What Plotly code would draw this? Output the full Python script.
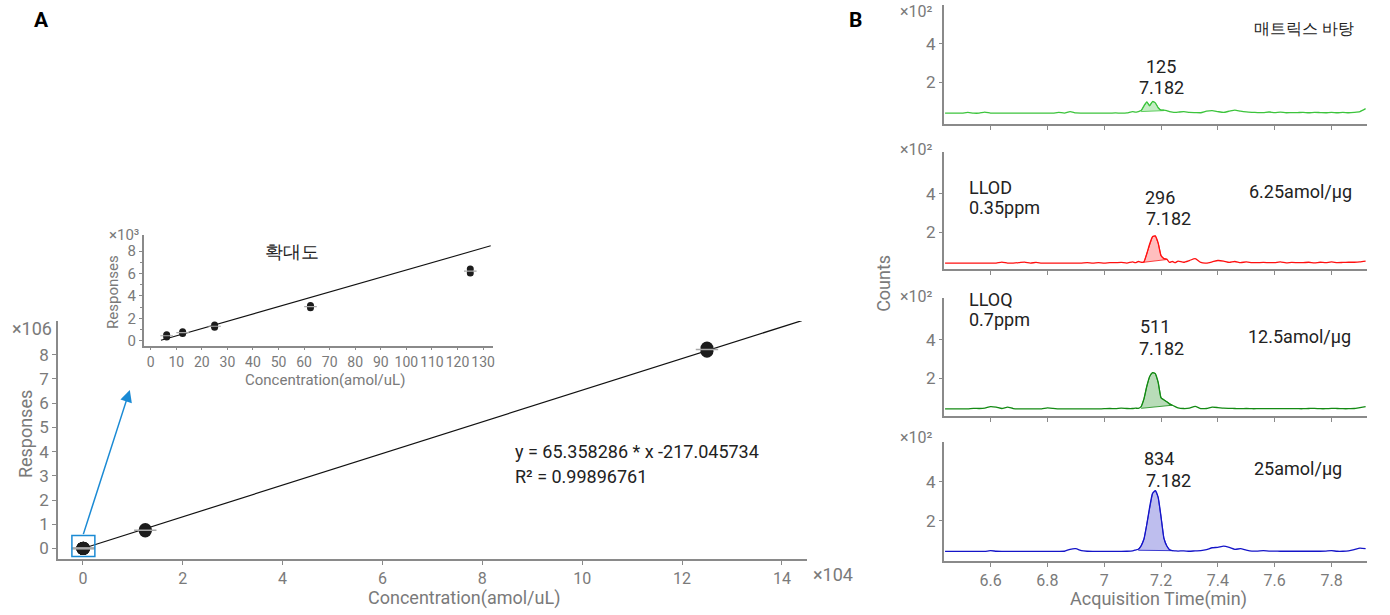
import plotly.graph_objects as go

# ---------------- data ----------------
# calibration (amol/uL -> responses), two replicate readings
conc = [6.25, 12.5, 25, 62.5, 125, 12500, 125000]
resp_rep1 = [350, 650, 1200, 2950, 6050, 720000, 8150000]
resp_rep2 = [550, 800, 1400, 3150, 6400, 780000, 8280000]
slope = 65.358286
intercept = -217.045734
main_fit_range = [0, 144000]
inset_fit_range = [4, 133]
n_inset = 5

main_xticks = [0, 2, 4, 6, 8, 10, 12, 14]
main_yticks = [0, 1, 2, 3, 4, 5, 6, 7, 8]
inset_xticks = [0, 10, 20, 30, 40, 50, 60, 70, 80, 90, 100, 110, 120, 130]
inset_yticks = [0, 2, 4, 6, 8]

# chromatograms (counts x10^2)
time = [6.44, 6.46, 6.48, 6.50, 6.52, 6.54, 6.56, 6.58, 6.60, 6.62, 6.64, 6.66, 6.68, 6.70, 6.72, 6.74,
        6.76, 6.78, 6.80, 6.82, 6.84, 6.86, 6.88, 6.90, 6.92, 6.94, 6.96, 6.98, 7.00, 7.02, 7.04, 7.06, 7.08,
        7.10, 7.11, 7.12, 7.13, 7.14, 7.15, 7.16, 7.17, 7.18, 7.19, 7.20, 7.21, 7.22, 7.23, 7.24, 7.25, 7.26,
        7.28, 7.30, 7.32, 7.34, 7.36, 7.38, 7.40, 7.42, 7.44, 7.46, 7.48, 7.50, 7.52, 7.54, 7.56, 7.58, 7.60,
        7.62, 7.64, 7.66, 7.68, 7.70, 7.72, 7.74, 7.76, 7.78, 7.80, 7.82, 7.84, 7.86, 7.88, 7.90, 7.92]

blank = [0.42, 0.42, 0.42, 0.42, 0.46, 0.42, 0.42, 0.47, 0.42, 0.42, 0.42, 0.42, 0.42, 0.42, 0.42, 0.42,
         0.42, 0.42, 0.42, 0.42, 0.46, 0.42, 0.50, 0.43, 0.42, 0.42, 0.42, 0.42, 0.42, 0.42, 0.43, 0.42, 0.43,
         0.50, 0.47, 0.50, 0.55, 0.80, 1.00, 0.80, 1.02, 0.95, 0.70, 0.58, 0.58, 0.55, 0.50, 0.47, 0.46, 0.47,
         0.50, 0.46, 0.45, 0.44, 0.52, 0.55, 0.50, 0.46, 0.52, 0.58, 0.52, 0.48, 0.46, 0.45, 0.45, 0.48, 0.45,
         0.47, 0.44, 0.45, 0.45, 0.46, 0.44, 0.46, 0.45, 0.44, 0.46, 0.44, 0.46, 0.44, 0.46, 0.50, 0.65]

llod = [0.42, 0.42, 0.42, 0.42, 0.42, 0.42, 0.42, 0.42, 0.42, 0.42, 0.47, 0.42, 0.42, 0.44, 0.47, 0.42,
        0.45, 0.42, 0.42, 0.42, 0.42, 0.42, 0.42, 0.42, 0.42, 0.44, 0.42, 0.44, 0.42, 0.44, 0.44, 0.45, 0.42,
        0.48, 0.44, 0.50, 0.46, 0.48, 0.90, 1.40, 1.78, 1.82, 1.45, 0.80, 0.65, 0.62, 0.45, 0.50, 0.44, 0.52,
        0.46, 0.55, 0.65, 0.45, 0.42, 0.48, 0.55, 0.52, 0.45, 0.50, 0.44, 0.48, 0.44, 0.44, 0.45, 0.44, 0.44,
        0.48, 0.43, 0.45, 0.44, 0.44, 0.46, 0.43, 0.46, 0.44, 0.48, 0.44, 0.45, 0.46, 0.46, 0.48, 0.52]

lloq = [0.43, 0.43, 0.43, 0.43, 0.43, 0.46, 0.45, 0.47, 0.55, 0.52, 0.45, 0.52, 0.45, 0.43, 0.43, 0.43,
        0.43, 0.43, 0.48, 0.46, 0.43, 0.43, 0.43, 0.43, 0.43, 0.43, 0.43, 0.43, 0.44, 0.45, 0.44, 0.47, 0.45,
        0.45, 0.47, 0.46, 0.55, 0.95, 1.60, 2.10, 2.30, 2.25, 1.80, 1.00, 0.90, 0.80, 0.68, 0.62, 0.55, 0.48,
        0.45, 0.47, 0.56, 0.45, 0.45, 0.52, 0.50, 0.47, 0.46, 0.45, 0.44, 0.45, 0.44, 0.44, 0.44, 0.44, 0.44,
        0.44, 0.44, 0.44, 0.44, 0.44, 0.45, 0.46, 0.44, 0.44, 0.46, 0.45, 0.44, 0.44, 0.45, 0.50, 0.55]

std25 = [0.41, 0.41, 0.41, 0.41, 0.41, 0.41, 0.41, 0.41, 0.45, 0.42, 0.41, 0.41, 0.41, 0.41, 0.41, 0.41,
         0.41, 0.41, 0.41, 0.41, 0.41, 0.42, 0.52, 0.55, 0.45, 0.42, 0.41, 0.41, 0.41, 0.41, 0.41, 0.41, 0.42,
         0.44, 0.48, 0.52, 0.70, 1.05, 1.80, 2.70, 3.40, 3.55, 3.20, 2.20, 1.10, 0.70, 0.50, 0.45, 0.44, 0.43,
         0.44, 0.42, 0.44, 0.45, 0.50, 0.60, 0.62, 0.68, 0.62, 0.52, 0.55, 0.48, 0.43, 0.43, 0.45, 0.43, 0.43,
         0.42, 0.42, 0.42, 0.42, 0.42, 0.42, 0.42, 0.42, 0.43, 0.45, 0.42, 0.42, 0.44, 0.50, 0.58, 0.55]

chrom_series = [blank, llod, lloq, std25]
chrom_colors = ["#3cc43c", "#ff1010", "#138a13", "#1414c8"]
chrom_fills = ["rgba(60,196,60,0.30)", "rgba(255,40,40,0.30)", "rgba(19,138,19,0.30)", "rgba(40,40,200,0.30)"]
peak_start = [7.13, 7.14, 7.13, 7.12]
peak_end = [7.21, 7.22, 7.24, 7.24]
base_start = [0.50, 0.46, 0.46, 0.47]
base_end = [0.55, 0.60, 0.62, 0.45]
peak_area = ["125", "296", "511", "834"]
peak_rt = ["7.182", "7.182", "7.182", "7.182"]
sample_labels = ["매트릭스 바탕", "6.25amol/μg", "12.5amol/μg", "25amol/μg"]
time_ticks = [6.6, 6.8, 7.0, 7.2, 7.4, 7.6, 7.8]
time_ticklabels = ["6.6", "6.8", "7", "7.2", "7.4", "7.6", "7.8"]
count_ticks = [2, 4]

# ---------------- layout helpers ----------------
W, H = 1390, 615
FONT = "Roboto"
AX_GRAY = "#8a8a8a"
TXT_GRAY = "#7a7a7a"
DARK = "#222222"


def px(x, y):
    return x / W, 1 - y / H


def axis_style(**kw):
    d = dict(showline=True, linecolor=AX_GRAY, linewidth=1.5, ticks="outside", ticklen=4,
             tickcolor=AX_GRAY, tickwidth=1.2, tickfont=dict(family=FONT, color=TXT_GRAY, size=17),
             showgrid=False, zeroline=False, mirror=False, fixedrange=True)
    d.update(kw)
    return d


fig = go.Figure()

# ---------------- Panel A main ----------------
mx1 = [c / 1e4 for c in conc]
my1 = [r / 1e6 for r in resp_rep1]
my2 = [r / 1e6 for r in resp_rep2]
fx = [v / 1e4 for v in main_fit_range]
fy = [(slope * v + intercept) / 1e6 for v in main_fit_range]
fig.add_trace(go.Scatter(x=fx, y=fy, mode="lines", line=dict(color="#111", width=1.2),
                         xaxis="x", yaxis="y", hoverinfo="skip"))
for ys in (my1, my2):
    fig.add_trace(go.Scatter(x=mx1, y=ys, mode="markers", marker=dict(color="#1c1c1c", size=13),
                             xaxis="x", yaxis="y"))
fig.add_trace(go.Scatter(x=mx1, y=[(a + b) / 2 for a, b in zip(my1, my2)], mode="markers",
                         marker=dict(symbol="line-ew", size=16, line=dict(color="#a8a8a8", width=1.5)),
                         xaxis="x", yaxis="y"))

# ---------------- Panel A inset ----------------
ix = conc[:n_inset]
iy1 = [r / 1e3 for r in resp_rep1[:n_inset]]
iy2 = [r / 1e3 for r in resp_rep2[:n_inset]]
ifx = inset_fit_range
ify = [(slope * v + intercept) / 1e3 for v in inset_fit_range]
fig.add_trace(go.Scatter(x=ifx, y=ify, mode="lines", line=dict(color="#111", width=1.1),
                         xaxis="x2", yaxis="y2"))
for ys in (iy1, iy2):
    fig.add_trace(go.Scatter(x=ix, y=ys, mode="markers", marker=dict(color="#1c1c1c", size=7),
                             xaxis="x2", yaxis="y2"))
fig.add_trace(go.Scatter(x=ix, y=[(a + b) / 2 for a, b in zip(iy1, iy2)], mode="markers",
                         marker=dict(symbol="line-ew", size=9, line=dict(color="#a8a8a8", width=1.2)),
                         xaxis="x2", yaxis="y2"))

# ---------------- Panel B ----------------
for i, vals in enumerate(chrom_series):
    xa, ya = "x%d" % (i + 3), "y%d" % (i + 3)
    pt = [t for t in time if peak_start[i] <= t <= peak_end[i]]
    pv = [v for t, v in zip(time, vals) if peak_start[i] <= t <= peak_end[i]]
    fig.add_trace(go.Scatter(x=pt + [peak_end[i], peak_start[i]], y=pv + [base_end[i], base_start[i]],
                             fill="toself", fillcolor=chrom_fills[i], mode="lines",
                             line=dict(color=chrom_colors[i], width=0.8), xaxis=xa, yaxis=ya))
    fig.add_trace(go.Scatter(x=time, y=vals, mode="lines", line=dict(color=chrom_colors[i], width=1.3,
                                                                   shape="spline", smoothing=0.5),
                             xaxis=xa, yaxis=ya))

# ---------------- axes ----------------
lay = dict(
    width=W, height=H, margin=dict(l=0, r=0, t=0, b=0), showlegend=False,
    paper_bgcolor="white", plot_bgcolor="rgba(0,0,0,0)", font=dict(family=FONT),
    xaxis=axis_style(domain=[58 / W, 808 / W], range=[-0.5, 14.5], tickvals=main_xticks, anchor="y",
                     ticklen=4, tickfont=dict(family=FONT, color=TXT_GRAY, size=16)),
    yaxis=axis_style(domain=[1 - 563 / H, 1 - 323 / H], range=[-0.45, 9.4], tickvals=main_yticks,
                     anchor="x", ticklen=4),
    xaxis2=axis_style(domain=[144 / W, 494 / W], range=[-2.7, 134], tickvals=inset_xticks, anchor="y2",
                      tickangle=0, tickfont=dict(family=FONT, color=TXT_GRAY, size=14), ticklen=3),
    yaxis2=axis_style(domain=[1 - 348 / H, 1 - 237 / H], range=[-0.44, 9.4], tickvals=inset_yticks,
                      anchor="x2", tickfont=dict(family=FONT, color=TXT_GRAY, size=15), ticklen=3,
                      minor=dict(ticks="outside", ticklen=2, tickvals=[1, 3, 5, 7], tickcolor=AX_GRAY)),
)
b_dom = [(125, 5, [-0.15, 6.0]), (271, 153, [0.1, 6.15]), (419, 300, [0.05, 6.15]), (565, 445, [-0.1, 6.05])]
for i, (bot, top, rng) in enumerate(b_dom):
    n = i + 3
    lay["xaxis%d" % n] = axis_style(domain=[945 / W, 1369 / W], range=[6.435, 7.925], tickvals=time_ticks,
                                    ticktext=time_ticklabels, anchor="y%d" % n, showticklabels=(i == 3),
                                    tickangle=0, ticklen=4, tickfont=dict(family=FONT, color=TXT_GRAY, size=16))
    lay["yaxis%d" % n] = axis_style(domain=[1 - bot / H, 1 - top / H], range=rng, tickvals=count_ticks,
                                    anchor="x%d" % n, ticklen=3)
fig.update_layout(**lay)

# ---------------- annotations ----------------
ann = []


def text(x, y, s, size=18, color=DARK, anchor="center", angle=0, bold=False):
    ax_, ay_ = px(x, y)
    ann.append(dict(x=ax_, y=ay_, xref="paper", yref="paper", text=("<b>%s</b>" % s) if bold else s,
                    showarrow=False, xanchor=anchor, yanchor="middle", textangle=angle,
                    font=dict(family=FONT, size=size, color=color)))


text(42, 20, "A", size=21, color="#000", bold=True)
text(857, 20, "B", size=21, color="#000", bold=True)
text(32, 331, "×106", size=18, color=TXT_GRAY)
text(834, 578, "×104", size=18, color=TXT_GRAY)
text(25, 437, "Responses", size=18, color=TXT_GRAY, angle=-90)
text(465, 602, "Concentration(amol/uL)", size=18, color=TXT_GRAY)
text(514, 454, "y = %.6f * x %.6f" % (slope, intercept), size=18, anchor="left")
text(514, 480, "R² = 0.99896761", size=18, anchor="left")
# inset texts
text(124, 237, "×10³", size=15, color=TXT_GRAY)
text(113, 294, "Responses", size=15, color=TXT_GRAY, angle=-90)
text(325, 382, "Concentration(amol/uL)", size=15, color=TXT_GRAY)
text(292, 253, "확대도", size=18, color=DARK)
# panel B texts
text(884, 285, "Counts", size=18, color=TXT_GRAY, angle=-90)
text(1160, 603, "Acquisition Time(min)", size=18, color=TXT_GRAY)
xlab_y = [12, 150, 298, 440]
area_y = [67, 199, 329, 462]
rt_y = [88, 220, 351, 484]
area_x = [1163, 1162, 1157, 1161]
rt_x = [1163, 1170, 1163, 1170]
samp_y = [29, 193, 339, 472]
samp_x = [1306, 1302, 1301, 1300]
for i in range(4):
    text(918, xlab_y[i], "×10²", size=16, color=TXT_GRAY)
    text(area_x[i], area_y[i], peak_area[i], size=18)
    text(rt_x[i], rt_y[i], peak_rt[i], size=18)
    text(samp_x[i], samp_y[i], sample_labels[i], size=16 if i == 0 else 18)
text(968, 189, "LLOD", size=18, anchor="left")
text(968, 209, "0.35ppm", size=18, anchor="left")
text(968, 301, "LLOQ", size=18, anchor="left")
text(968, 322, "0.7ppm", size=18, anchor="left")

# zoom arrow (main axis data coords)
ann.append(dict(x=0.94, y=6.55, ax=0, ay=0.53, xref="x", yref="y", axref="x", ayref="y",
                showarrow=True, arrowhead=2, arrowsize=1.6, arrowwidth=1.5, arrowcolor="#1a8ad4", text=""))
fig.update_layout(annotations=ann)
fig.add_shape(type="rect", xref="x", yref="y", x0=-0.22, x1=0.24, y0=-0.33, y1=0.53,
              line=dict(color="#1a8ad4", width=1.5))

fig.write_html("out.html", config={"displayModeBar": False},
               post_script="document.body.style.margin='0px';")
